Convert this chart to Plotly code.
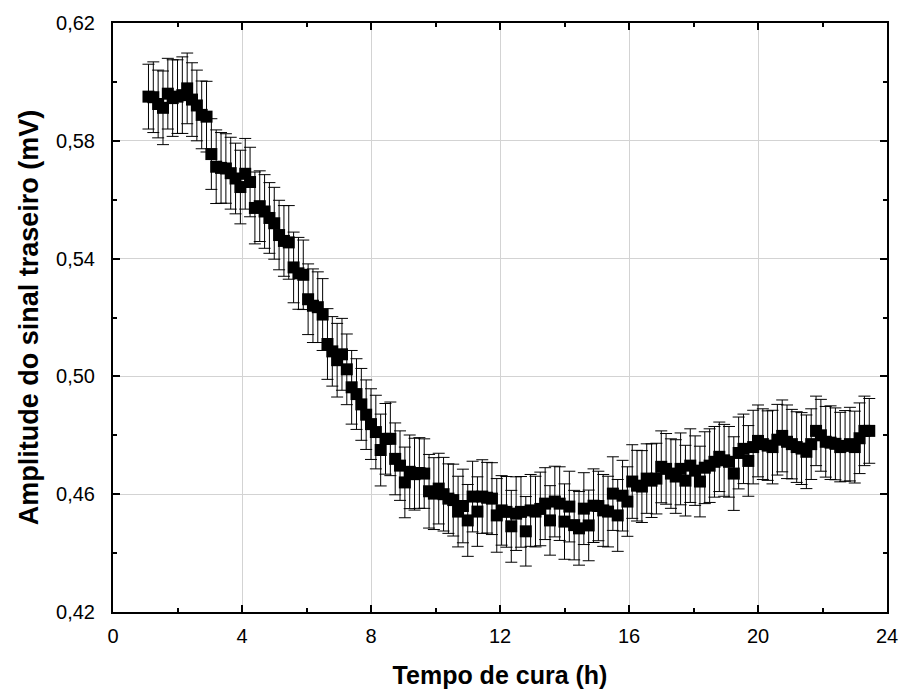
import plotly.graph_objects as go

# Curing time (h)
tempo = [
    1.10, 1.25, 1.40, 1.55, 1.70, 1.85, 2.00, 2.15, 2.30, 2.45,
    2.60, 2.75, 2.90, 3.05, 3.20, 3.35, 3.50, 3.65, 3.80, 3.95,
    4.10, 4.25, 4.40, 4.55, 4.70, 4.85, 5.00, 5.15, 5.30, 5.45,
    5.60, 5.75, 5.90, 6.05, 6.20, 6.35, 6.50, 6.65, 6.80, 6.95,
    7.10, 7.25, 7.40, 7.55, 7.70, 7.85, 8.00, 8.15, 8.30, 8.45,
    8.60, 8.75, 8.90, 9.05, 9.20, 9.35, 9.50, 9.65, 9.80, 9.95,
    10.10, 10.25, 10.40, 10.55, 10.70, 10.85, 11.00, 11.15, 11.30, 11.45,
    11.60, 11.75, 11.90, 12.05, 12.20, 12.35, 12.50, 12.65, 12.80, 12.95,
    13.10, 13.25, 13.40, 13.55, 13.70, 13.85, 14.00, 14.15, 14.30, 14.45,
    14.60, 14.75, 14.90, 15.05, 15.20, 15.35, 15.50, 15.65, 15.80, 15.95,
    16.10, 16.25, 16.40, 16.55, 16.70, 16.85, 17.00, 17.15, 17.30, 17.45,
    17.60, 17.75, 17.90, 18.05, 18.20, 18.35, 18.50, 18.65, 18.80, 18.95,
    19.10, 19.25, 19.40, 19.55, 19.70, 19.85, 20.00, 20.15, 20.30, 20.45,
    20.60, 20.75, 20.90, 21.05, 21.20, 21.35, 21.50, 21.65, 21.80, 21.95,
    22.10, 22.25, 22.40, 22.55, 22.70, 22.85, 23.00, 23.15, 23.30, 23.45,
]

# Rear-signal amplitude (mV)
amplitude = [
    0.5950, 0.5948, 0.5925, 0.5912, 0.5960, 0.5945, 0.5950, 0.5955, 0.5978, 0.5940,
    0.5920, 0.5888, 0.5882, 0.5755, 0.5712, 0.5708, 0.5706, 0.5690, 0.5672, 0.5643,
    0.5688, 0.5660, 0.5572, 0.5578, 0.5560, 0.5538, 0.5520, 0.5480, 0.5460, 0.5455,
    0.5370, 0.5350, 0.5345, 0.5262, 0.5240, 0.5235, 0.5210, 0.5110, 0.5085, 0.5055,
    0.5075, 0.5024, 0.4963, 0.4940, 0.4905, 0.4870, 0.4838, 0.4811, 0.4750, 0.4788,
    0.4788, 0.4720, 0.4697, 0.4640, 0.4676, 0.4668, 0.4672, 0.4670, 0.4610, 0.4602,
    0.4619, 0.4600, 0.4585, 0.4580, 0.4541, 0.4560, 0.4511, 0.4592, 0.4541, 0.4592,
    0.4588, 0.4585, 0.4528, 0.4545, 0.4540, 0.4491, 0.4534, 0.4540, 0.4474, 0.4545,
    0.4541, 0.4550, 0.4568, 0.4511, 0.4575, 0.4568, 0.4507, 0.4558, 0.4495, 0.4484,
    0.4551, 0.4494, 0.4561, 0.4560, 0.4545, 0.4541, 0.4602, 0.4528, 0.4595, 0.4575,
    0.4643, 0.4629, 0.4626, 0.4653, 0.4646, 0.4653, 0.4693, 0.4686, 0.4670, 0.4660,
    0.4686, 0.4646, 0.4697, 0.4680, 0.4643, 0.4690, 0.4697, 0.4710, 0.4727, 0.4715,
    0.4710, 0.4670, 0.4740, 0.4754, 0.4713, 0.4760, 0.4781, 0.4770, 0.4765, 0.4760,
    0.4785, 0.4798, 0.4778, 0.4770, 0.4760, 0.4755, 0.4744, 0.4770, 0.4815, 0.4800,
    0.4778, 0.4775, 0.4771, 0.4760, 0.4764, 0.4770, 0.4760, 0.4790, 0.4815, 0.4815,
]

# Standard deviation of each measurement (mV)
desvio = [
    0.0110, 0.0120, 0.0115, 0.0125, 0.0120, 0.0130, 0.0125, 0.0130, 0.0120, 0.0125,
    0.0120, 0.0115, 0.0120, 0.0120, 0.0125, 0.0120, 0.0118, 0.0122, 0.0120, 0.0125,
    0.0120, 0.0118, 0.0122, 0.0120, 0.0125, 0.0120, 0.0122, 0.0118, 0.0120, 0.0125,
    0.0120, 0.0122, 0.0118, 0.0120, 0.0125, 0.0120, 0.0122, 0.0120, 0.0118, 0.0125,
    0.0122, 0.0120, 0.0125, 0.0120, 0.0122, 0.0118, 0.0120, 0.0125, 0.0122, 0.0120,
    0.0125, 0.0122, 0.0118, 0.0120, 0.0125, 0.0122, 0.0120, 0.0118, 0.0125, 0.0122,
    0.0120, 0.0125, 0.0118, 0.0122, 0.0120, 0.0125, 0.0122, 0.0120, 0.0118, 0.0125,
    0.0120, 0.0122, 0.0125, 0.0118, 0.0120, 0.0122, 0.0125, 0.0120, 0.0118, 0.0122,
    0.0120, 0.0125, 0.0122, 0.0118, 0.0120, 0.0125, 0.0128, 0.0120, 0.0118, 0.0125,
    0.0122, 0.0120, 0.0125, 0.0118, 0.0122, 0.0120, 0.0125, 0.0122, 0.0120, 0.0118,
    0.0125, 0.0120, 0.0122, 0.0118, 0.0125, 0.0120, 0.0122, 0.0120, 0.0118, 0.0125,
    0.0122, 0.0120, 0.0125, 0.0118, 0.0120, 0.0122, 0.0125, 0.0120, 0.0118, 0.0122,
    0.0120, 0.0125, 0.0122, 0.0118, 0.0120, 0.0125, 0.0122, 0.0120, 0.0118, 0.0125,
    0.0120, 0.0122, 0.0125, 0.0118, 0.0120, 0.0122, 0.0125, 0.0120, 0.0118, 0.0122,
    0.0120, 0.0125, 0.0122, 0.0118, 0.0120, 0.0125, 0.0122, 0.0120, 0.0118, 0.0110,
]

x_ticks = [0, 4, 8, 12, 16, 20, 24]
y_ticks = [0.42, 0.46, 0.50, 0.54, 0.58, 0.62]

FONT = "Liberation Sans, Arial, Helvetica, sans-serif"

fig = go.Figure()
fig.add_trace(go.Scatter(
    x=tempo,
    y=amplitude,
    mode="markers",
    marker=dict(symbol="square", size=12, color="black", line=dict(width=0)),
    error_y=dict(type="data", array=desvio, visible=True,
                 color="black", thickness=1, width=6),
    showlegend=False,
))

axis_common = dict(
    showline=True, linecolor="black", linewidth=2, mirror="ticks",
    ticks="inside", ticklen=7, tickwidth=1.5, tickcolor="black",
    showgrid=True, gridcolor="#d3d3d3", gridwidth=1,
    zeroline=False,
    tickfont=dict(family=FONT, size=20, color="black"),
)

fig.update_xaxes(
    **axis_common,
    range=[0, 24], tickvals=x_ticks,
    minor=dict(dtick=2, tick0=0, ticks="inside", ticklen=4,
               tickcolor="black", showgrid=False),
    title=dict(text="<b>Tempo de cura (h)</b>",
               font=dict(family=FONT, size=25, color="black"), standoff=20),
    ticklabelstandoff=5,
)
fig.update_yaxes(
    **axis_common,
    range=[0.42, 0.62], tickvals=y_ticks, tickformat=".2f",
    minor=dict(dtick=0.02, tick0=0.42, ticks="inside", ticklen=4,
               tickcolor="black", showgrid=False),
    title=dict(text="<b>Amplitude do sinal traseiro (mV)</b>",
               font=dict(family=FONT, size=27, color="black"), standoff=10),
    ticklabelstandoff=12,
)

fig.update_layout(
    width=910, height=697,
    margin=dict(l=113, r=18, t=22, b=83),
    plot_bgcolor="white", paper_bgcolor="white",
    separators=",.",
    font=dict(family=FONT, color="black"),
)

fig.write_html("out.html")
